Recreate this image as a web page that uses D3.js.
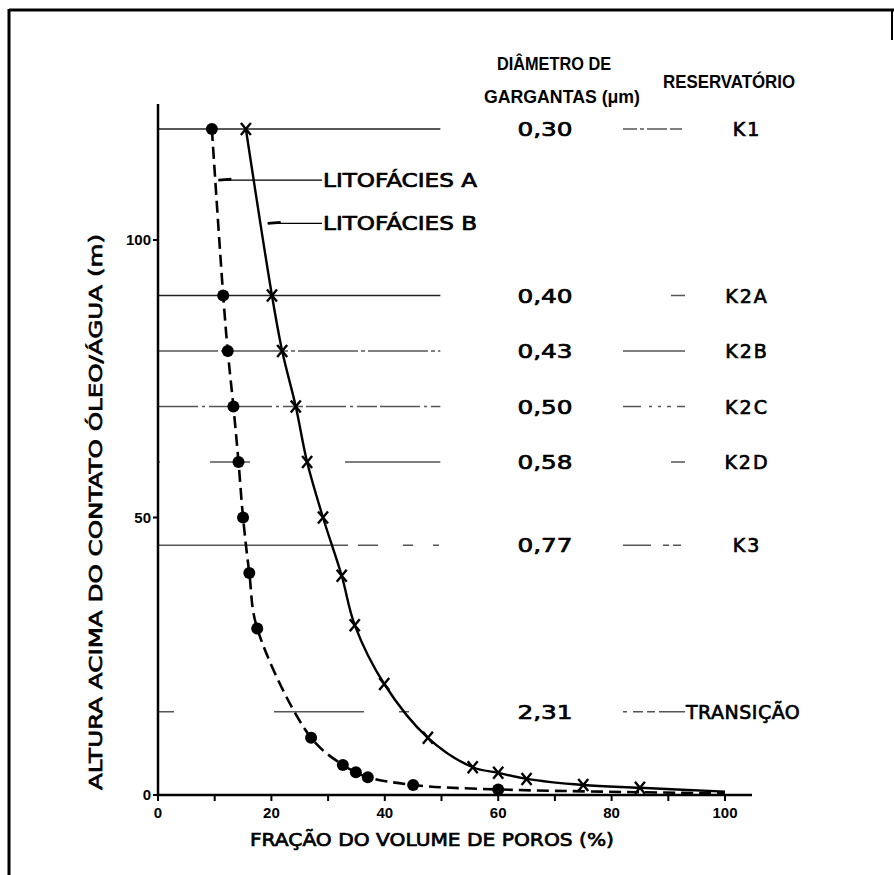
<!DOCTYPE html>
<html>
<head>
<meta charset="utf-8">
<script src="https://cdnjs.cloudflare.com/ajax/libs/d3/7.8.5/d3.min.js"></script>
<style>
  body { margin: 0; background: #fff; }
  text { font-family: 'DejaVu Sans', 'Liberation Sans', sans-serif; fill: #000; stroke: #000; stroke-width: 0.7px; }
  text.hd, text.tk { font-family: 'Liberation Sans', sans-serif; font-weight: bold; stroke: none; }
</style>
</head>
<body>
<div id="chart"></div>
<script>
// fraction of pore volume (%) vs height above oil/water contact (m)
var faciesA_x = [9.5, 11.5, 12.3, 13.3, 14.2, 15, 16.1, 17.5, 27, 32.6, 34.9, 37, 45, 60];
var faciesA_y = [120, 90, 80, 70, 60, 50, 40, 30, 10.3, 5.4, 4.1, 3.2, 1.8, 1];
var faciesB_x = [15.5, 20.1, 21.9, 24.3, 26.3, 29.1, 32.4, 34.7, 39.9, 47.6, 55.5, 60, 65, 75, 85];
var faciesB_y = [120, 90, 80, 70, 60, 50, 39.5, 30.6, 20, 10.3, 5, 4, 2.9, 1.8, 1.3];
// where the drawn curves run out at the right edge
var endA = [100, 0.3];
var endB = [100, 0.6];

var levels = [120, 90, 80, 70, 60, 45, 15];
var throatDiameters = ['0,30', '0,40', '0,43', '0,50', '0,58', '0,77', '2,31'];
var reservoirs = ['K1', 'K2A', 'K2B', 'K2C', 'K2D', 'K3', 'TRANSIÇÃO'];

var xTicks = [0, 20, 40, 60, 80, 100];
var xMinorTicks = [10, 30, 50, 70, 90];
var yTicks = [0, 50, 100];

var width = 894, height = 875;

var svg = d3.select('#chart').append('svg').attr('width', width).attr('height', height);

// frame of the scanned figure
svg.append('line').attr('x1', 9).attr('y1', 10).attr('x2', 894).attr('y2', 10).attr('stroke', '#000').attr('stroke-width', 3);
svg.append('line').attr('x1', 9).attr('y1', 9).attr('x2', 9).attr('y2', 875).attr('stroke', '#000').attr('stroke-width', 3);
svg.append('line').attr('x1', 892).attr('y1', 9).attr('x2', 892).attr('y2', 40).attr('stroke', '#000').attr('stroke-width', 2);

var x = d3.scaleLinear().domain([0, 100]).range([158, 725]);
var y = d3.scaleLinear().domain([0, 120]).range([795, 129]);

// reference lines for each reservoir level
var leftDash = ['none', 'none', '60,3,4,3', '40,4,3,4,20,3', '2,50,40,95,100,400', '190,10,20,25,10,20,6,1000', '16,100,90,35,10,1000'];
var rightDash = ['14,3,4,3,20,3,12,100', '0,48,14,100', 'none', '18,8,3,6,3,6,4,6,8,100', '0,48,14,100', '28,12,6,4,8,100', '4,6,10,4,8,4,26,100'];
var ref = svg.append('g');
levels.forEach(function(v, i) {
  ref.append('line')
    .attr('x1', x(0)).attr('x2', x(49.8))
    .attr('y1', y(v)).attr('y2', y(v))
    .attr('stroke', i < 2 ? '#222' : '#555').attr('stroke-width', 1.3)
    .attr('stroke-dasharray', leftDash[i]);
  ref.append('text')
    .attr('x', 545).attr('y', y(v) + 7)
    .attr('text-anchor', 'middle').attr('font-size', 19)
    .attr('textLength', 55).attr('lengthAdjust', 'spacingAndGlyphs')
    .text(throatDiameters[i]);
  ref.append('line')
    .attr('x1', 623).attr('x2', 685)
    .attr('y1', y(v)).attr('y2', y(v))
    .attr('stroke', '#555').attr('stroke-width', 1.3)
    .attr('stroke-dasharray', rightDash[i]);
  var last = i === levels.length - 1;
  ref.append('text')
    .attr('x', last ? 686 : 747).attr('y', y(v) + 7)
    .attr('text-anchor', last ? 'start' : 'middle').attr('font-size', 19)
    .attr('letter-spacing', last ? 0.5 : 2)
    .text(reservoirs[i]);
});

// axes
var xAxis = svg.append('g').attr('transform', 'translate(0,' + y(0) + ')');
xAxis.append('line').attr('x1', x(0)).attr('x2', 752).attr('stroke', '#000').attr('stroke-width', 2.5);
xAxis.selectAll('.tick').data(xTicks.concat(xMinorTicks)).enter().append('line')
  .attr('x1', function(d) { return x(d); }).attr('x2', function(d) { return x(d); })
  .attr('y1', 0).attr('y2', 6).attr('stroke', '#000').attr('stroke-width', 2);
xAxis.selectAll('.lb').data(xTicks).enter().append('text').attr('class', 'tk')
  .attr('x', function(d) { return x(d); }).attr('y', 23)
  .attr('text-anchor', 'middle').attr('font-size', 15)
  .text(function(d) { return d; });

var yAxis = svg.append('g').attr('transform', 'translate(' + x(0) + ',0)');
yAxis.append('line').attr('y1', 104).attr('y2', y(0)).attr('stroke', '#000').attr('stroke-width', 2.5);
yAxis.selectAll('.tick').data(yTicks).enter().append('line')
  .attr('y1', function(d) { return y(d); }).attr('y2', function(d) { return y(d); })
  .attr('x1', -5).attr('x2', 0).attr('stroke', '#000').attr('stroke-width', 2);
yAxis.selectAll('.lb').data(yTicks).enter().append('text').attr('class', 'tk')
  .attr('x', -7).attr('y', function(d) { return y(d) + 5; })
  .attr('text-anchor', 'end').attr('font-size', 15)
  .text(function(d) { return d; });

svg.append('text')
  .attr('x', 432).attr('y', 846).attr('text-anchor', 'middle')
  .attr('font-size', 18).attr('textLength', 364).attr('lengthAdjust', 'spacingAndGlyphs')
  .text('FRAÇÃO DO VOLUME DE POROS (%)');
svg.append('text')
  .attr('transform', 'translate(102,512) rotate(-90)').attr('text-anchor', 'middle')
  .attr('font-size', 18).attr('textLength', 556).attr('lengthAdjust', 'spacingAndGlyphs')
  .text('ALTURA ACIMA DO CONTATO ÓLEO/ÁGUA (m)');

// column headers
svg.append('text').attr('class', 'hd').attr('x', 554).attr('y', 70).attr('text-anchor', 'middle')
  .attr('font-size', 19)
  .attr('textLength', 114).attr('lengthAdjust', 'spacingAndGlyphs').text('DIÂMETRO DE');
svg.append('text').attr('class', 'hd').attr('x', 562).attr('y', 103).attr('text-anchor', 'middle')
  .attr('font-size', 19)
  .attr('textLength', 156).attr('lengthAdjust', 'spacingAndGlyphs').text('GARGANTAS (μm)');
svg.append('text').attr('class', 'hd').attr('x', 729).attr('y', 88).attr('text-anchor', 'middle')
  .attr('font-size', 19)
  .attr('textLength', 132).attr('lengthAdjust', 'spacingAndGlyphs').text('RESERVATÓRIO');

// curves
var ptsA = faciesA_x.map(function(d, i) { return [d, faciesA_y[i]]; });
var ptsB = faciesB_x.map(function(d, i) { return [d, faciesB_y[i]]; });
var line = d3.line()
  .x(function(d) { return x(d[0]); })
  .y(function(d) { return y(d[1]); })
  .curve(d3.curveCatmullRom.alpha(0.5));

svg.append('path').datum(ptsA.concat([endA]))
  .attr('d', line).attr('fill', 'none').attr('stroke', '#000')
  .attr('stroke-width', 2.6).attr('stroke-dasharray', '12,6');
svg.append('path').datum(ptsB.concat([endB]))
  .attr('d', line).attr('fill', 'none').attr('stroke', '#000')
  .attr('stroke-width', 2.4);

svg.selectAll('.dotA').data(ptsA).enter().append('circle')
  .attr('cx', function(d) { return x(d[0]); })
  .attr('cy', function(d) { return y(d[1]); })
  .attr('r', 6).attr('fill', '#000');

var xmark = svg.selectAll('.markB').data(ptsB).enter().append('g')
  .attr('transform', function(d) { return 'translate(' + x(d[0]) + ',' + y(d[1]) + ')'; });
xmark.append('path').attr('d', 'M-5,-6L5,6M5,-6L-5,6')
  .attr('stroke', '#000').attr('stroke-width', 2.4).attr('fill', 'none');

// leader lines to the facies labels
var labels = [['LITOFÁCIES A', 10.3, 110.8], ['LITOFÁCIES B', 19.0, 103]];
labels.forEach(function(l) {
  svg.append('line').attr('x1', x(l[1]) + 2).attr('x2', 322)
    .attr('y1', y(l[2])).attr('y2', y(l[2]))
    .attr('stroke', '#000').attr('stroke-width', 1.3);
  svg.append('line').attr('x1', x(l[1]) + 2).attr('x2', x(l[1]) + 15)
    .attr('y1', y(l[2])).attr('y2', y(l[2]) - 1)
    .attr('stroke', '#000').attr('stroke-width', 2.8);
  svg.append('text').attr('x', 323).attr('y', y(l[2]) + 7)
    .attr('font-size', 19).attr('textLength', 154).attr('lengthAdjust', 'spacingAndGlyphs')
    .text(l[0]);
});
</script>
</body>
</html>
